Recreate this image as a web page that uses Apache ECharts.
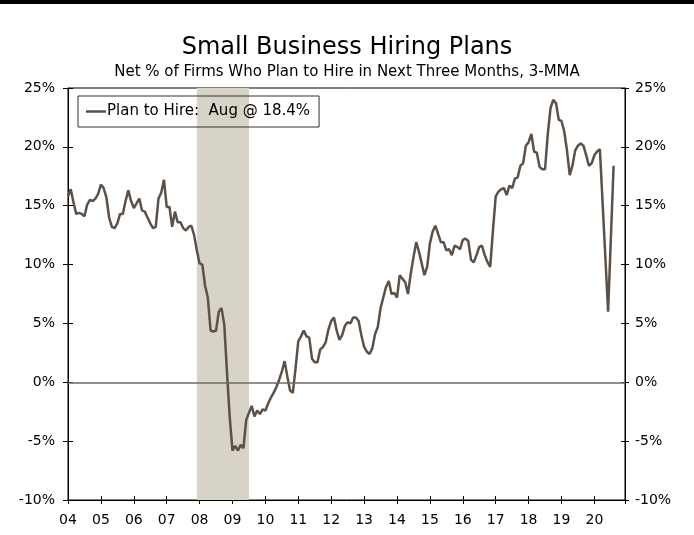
<!DOCTYPE html>
<html lang="en">
<head>
    <meta charset="UTF-8">
    <title>Small Business Hiring Plans</title>
    <script src="https://cdn.jsdelivr.net/npm/echarts@6/dist/echarts.min.js"></script>
    <style>
        html, body { margin: 0; padding: 0; background: #fff; }
        #container { width: 694px; height: 535px; }
    </style>
</head>
<body>
<div id="container"></div>

<script>
    // monthly, Jan 2004 .. Aug 2020, net % (3-MMA)
    var startYear = 2004;
    var planToHire = [
        15.8, 16.4, 15.3, 14.3, 14.4, 14.3, 14.1, 15.1, 15.5, 15.4, 15.6, 16.0,   // 04
        16.8, 16.5, 15.7, 14.0, 13.2, 13.1, 13.5, 14.3, 14.3, 15.4, 16.3, 15.4,   // 05
        14.8, 15.2, 15.6, 14.6, 14.5, 14.0, 13.5, 13.1, 13.2, 15.6, 16.1, 17.2,   // 06
        14.9, 14.9, 13.2, 14.5, 13.6, 13.6, 13.1, 12.9, 13.2, 13.3, 12.5, 11.2,   // 07
        10.1, 10.0, 8.2, 7.2, 4.4, 4.3, 4.4, 6.0, 6.3, 4.9, 0.8, -3.0,            // 08
        -5.8, -5.4, -5.8, -5.3, -5.6, -3.2, -2.6, -2.0, -2.9, -2.4, -2.7, -2.3,   // 09
        -2.4, -1.8, -1.3, -0.9, -0.4, 0.2, 0.9, 1.8, 0.5, -0.7, -0.9, 1.2,        // 10
        3.5, 3.9, 4.4, 3.9, 3.8, 2.0, 1.7, 1.7, 2.8, 3.0, 3.4, 4.5,               // 11
        5.2, 5.5, 4.4, 3.6, 4.0, 4.8, 5.1, 5.0, 5.5, 5.5, 5.2, 4.0,               // 12
        3.0, 2.6, 2.4, 2.9, 4.1, 4.7, 6.3, 7.2, 8.1, 8.6, 7.5, 7.6,               // 13
        7.2, 9.1, 8.8, 8.5, 7.5, 9.2, 10.6, 11.9, 11.1, 10.1, 9.1, 9.8,           // 14
        11.8, 12.8, 13.3, 12.6, 11.9, 11.9, 11.2, 11.3, 10.8, 11.6, 11.5, 11.3,   // 15
        12.1, 12.2, 12.0, 10.4, 10.2, 10.8, 11.5, 11.6, 10.8, 10.2, 9.8, 12.9,    // 16
        15.8, 16.2, 16.4, 16.5, 15.9, 16.7, 16.5, 17.3, 17.4, 18.4, 18.6, 20.1,   // 17
        20.4, 21.1, 19.6, 19.5, 18.3, 18.1, 18.1, 21.1, 23.3, 24.0, 23.7, 22.3,   // 18
        22.2, 21.3, 19.7, 17.6, 18.4, 19.7, 20.1, 20.3, 20.1, 19.3, 18.4, 18.6,   // 19
        19.3, 19.6, 19.8, 15.2, 10.6, 6.0, 12.2, 18.4                             // 20
    ];
    var recession = [2007 + 11 / 12, 2009.5];   // Dec 2007 - Jun 2009
    var yTicks = [-10, -5, 0, 5, 10, 15, 20, 25];
    var seriesName = 'Plan to Hire:  Aug @ 18.4%';

    var points = planToHire.map(function (v, i) {
        return [startYear + i / 12, v];
    });

    var font = 'DejaVu Sans';
    var lineColor = '#5c5047';
    var yMin = yTicks[0], yMax = yTicks[yTicks.length - 1];

    function yLabel(v) { return v + '%'; }
    function xLabel(v) {
        if (Math.abs(v - Math.round(v)) > 1e-6) return '';
        return String(Math.round(v)).slice(2);
    }

    var myChart = echarts.init(document.getElementById('container'));
    var option = {
        animation: false,
        backgroundColor: '#fff',
        title: {
            text: 'Small Business Hiring Plans',
            subtext: 'Net % of Firms Who Plan to Hire in Next Three Months, 3-MMA',
            left: 'center',
            top: 36,
            itemGap: 5,
            padding: 0,
            textStyle: { fontFamily: font, fontSize: 24, fontWeight: 'normal', color: '#000' },
            subtextStyle: { fontFamily: font, fontSize: 15, color: '#000' }
        },
        graphic: [
            { type: 'rect', left: 0, top: 0, shape: { width: 694, height: 4 }, style: { fill: '#000' } }
        ],
        legend: {
            data: [{ name: seriesName, icon: 'rect' }],
            left: 78,
            top: 96,
            padding: [8, 9, 8, 8],
            borderColor: '#333',
            borderWidth: 1,
            itemWidth: 20,
            itemHeight: 2.5,
            itemGap: 0,
            textStyle: { fontFamily: font, fontSize: 15, color: '#000', padding: [0, 0, 0, -4] }
        },
        grid: {
            left: 68, right: 69, top: 88, bottom: 35,
            show: true, borderColor: '#000', borderWidth: 1
        },
        xAxis: [
            {
                type: 'value', min: startYear, max: 2020.93, interval: 1,
                splitLine: { show: false },
                axisLine: { onZero: false, lineStyle: { color: '#000', width: 1 } },
                axisTick: { length: 4, lineStyle: { color: '#000' } },
                axisLabel: { formatter: xLabel, fontFamily: font, fontSize: 14, color: '#000', margin: 13 }
            },
            {
                type: 'value', position: 'bottom', min: startYear, max: 2020.93, interval: 1,
                splitLine: { show: false },
                axisLine: { show: false, onZero: false },
                axisTick: { inside: true, length: 4, lineStyle: { color: '#000' } },
                axisLabel: { show: false }
            }
        ],
        yAxis: [
            {
                type: 'value', position: 'left', min: yMin, max: yMax, interval: 5,
                splitLine: { show: false },
                axisLine: { show: true, onZero: false, lineStyle: { color: '#000', width: 1 } },
                axisTick: { show: true, length: 5, lineStyle: { color: '#000' } },
                axisLabel: { formatter: yLabel, fontFamily: font, fontSize: 14, color: '#000', margin: 13 }
            },
            {
                type: 'value', position: 'right', min: yMin, max: yMax, interval: 5,
                splitLine: { show: false },
                axisLine: { show: true, onZero: false, lineStyle: { color: '#000', width: 1 } },
                axisTick: { show: true, length: 4, lineStyle: { color: '#000' } },
                axisLabel: { formatter: yLabel, fontFamily: font, fontSize: 14, color: '#000', margin: 10 }
            },
            {
                type: 'value', position: 'left', min: yMin, max: yMax, interval: 5,
                splitLine: { show: false }, axisLine: { show: false, onZero: false },
                axisTick: { show: true, inside: true, length: 5, lineStyle: { color: '#000' } },
                axisLabel: { show: false }
            },
            {
                type: 'value', position: 'right', min: yMin, max: yMax, interval: 5,
                splitLine: { show: false }, axisLine: { show: false, onZero: false },
                axisTick: { show: true, inside: true, length: 4, lineStyle: { color: '#000' } },
                axisLabel: { show: false }
            }
        ],
        series: [
            {
                // recession shading + zero line, kept under the data line
                name: 'markers',
                type: 'line',
                data: [],
                z: 1,
                silent: true,
                markArea: {
                    silent: true,
                    itemStyle: { color: '#d7d3c7' },
                    data: [[{ xAxis: recession[0] }, { xAxis: recession[1] }]]
                },
                markLine: {
                    silent: true,
                    symbol: 'none',
                    label: { show: false },
                    lineStyle: { color: '#6b6b6b', width: 1.5, type: 'solid' },
                    data: [{ yAxis: 0 }]
                }
            },
            {
                name: seriesName,
                type: 'line',
                data: points,
                z: 3,
                symbol: 'none',
                lineStyle: { color: lineColor, width: 2.5 },
                itemStyle: { color: lineColor }
            }
        ]
    };
    myChart.setOption(option);
</script>
</body>
</html>
